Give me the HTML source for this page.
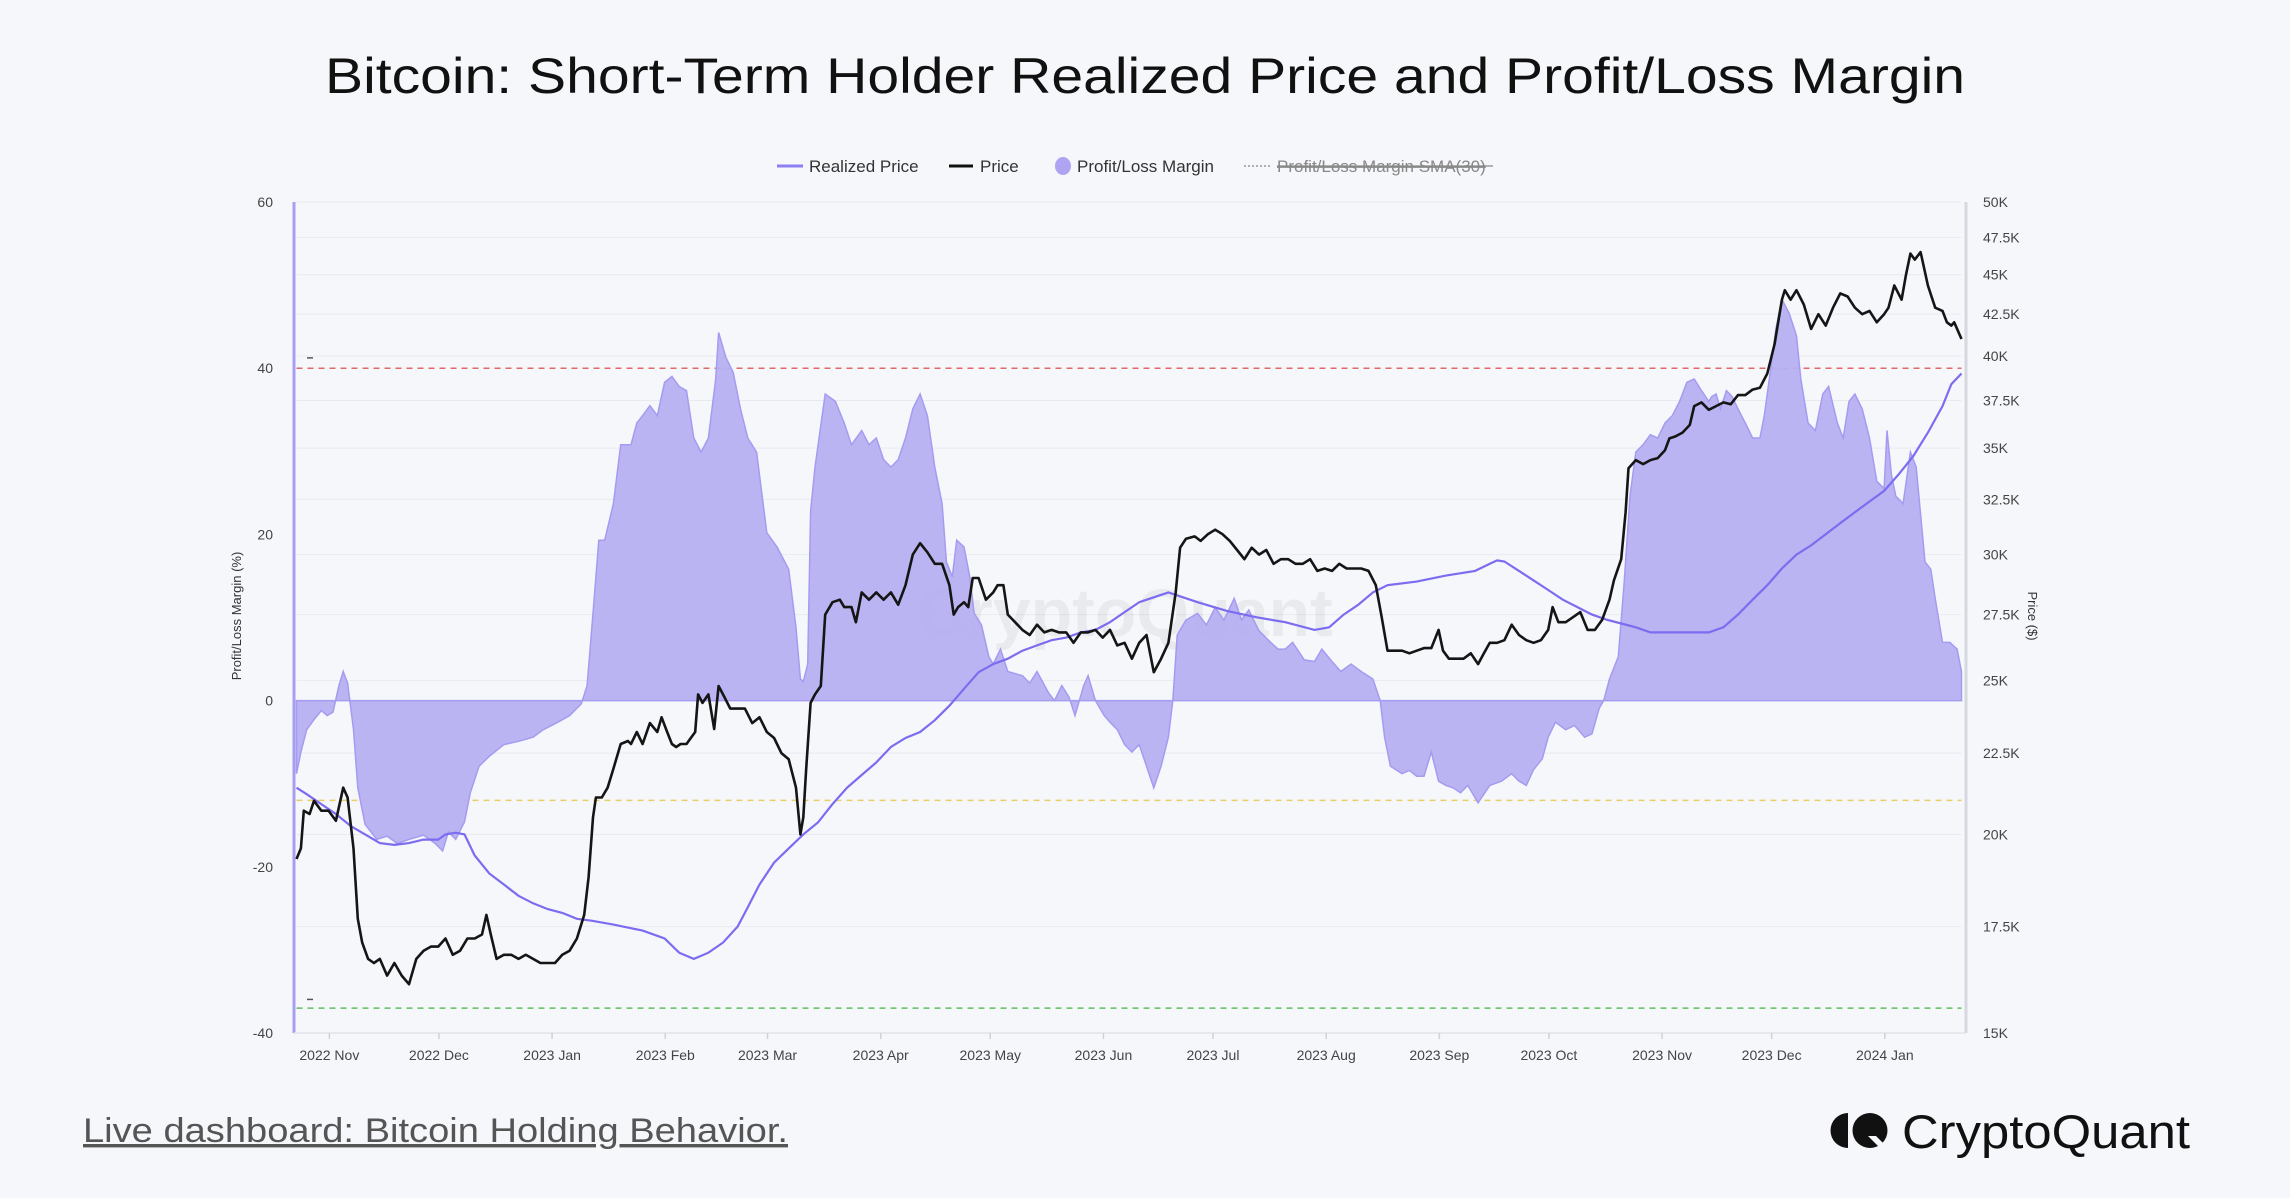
<!DOCTYPE html>
<html><head><meta charset="utf-8"><style>
html,body{margin:0;padding:0;background:#f6f7fb;}
svg{display:block;font-family:"Liberation Sans",sans-serif;}
</style></head><body>
<svg id="chart" width="2290" height="1198" viewBox="0 0 2290 1198" xmlns="http://www.w3.org/2000/svg">
<rect width="2290" height="1198" fill="#f6f7fb"/>
<text x="1145" y="93" text-anchor="middle" font-size="50" fill="#111" textLength="1640" lengthAdjust="spacingAndGlyphs">Bitcoin: Short-Term Holder Realized Price and Profit/Loss Margin</text>
<g font-size="17" fill="#333">
 <g><line x1="777" y1="166" x2="803" y2="166" stroke="#8b7ff2" stroke-width="3"/><text x="809" y="172">Realized Price</text></g>
 <g><line x1="949" y1="166" x2="973" y2="166" stroke="#111" stroke-width="3"/><text x="980" y="172">Price</text></g>
 <g><ellipse cx="1063" cy="166" rx="8" ry="9" fill="#aea4f2"/><text x="1077" y="172">Profit/Loss Margin</text></g>
 <g><line x1="1244" y1="166" x2="1271" y2="166" stroke="#999" stroke-width="1.5" stroke-dasharray="2,2"/><text x="1277" y="172" fill="#888" text-decoration="line-through">Profit/Loss Margin SMA(30)</text><line x1="1277" y1="166" x2="1493" y2="166" stroke="#888" stroke-width="1.2"/></g>
</g>
<g id="grid"></g>
<text x="1125" y="636" text-anchor="middle" font-size="68" fill="#000" fill-opacity="0.05" font-weight="bold">CryptoQuant</text>
<g id="refs"></g>
<g id="marks"></g>
<line x1="294" y1="202" x2="294" y2="1033" stroke="#a89ef0" stroke-width="3"/>
<line x1="1966" y1="202" x2="1966" y2="1033" stroke="#d6d8e0" stroke-width="3"/>
<line x1="294" y1="1033" x2="1966" y2="1033" stroke="#e2e4ea" stroke-width="1.5"/>
<g id="axes" font-size="14" fill="#444"></g>
<text transform="translate(241,616) rotate(-90)" text-anchor="middle" font-size="13" fill="#333">Profit/Loss Margin (%)</text>
<text transform="translate(2028,616) rotate(90)" text-anchor="middle" font-size="13" fill="#333">Price ($)</text>
<text x="83" y="1142" font-size="34" fill="#555" textLength="705" lengthAdjust="spacingAndGlyphs" text-decoration="underline">Live dashboard: Bitcoin Holding Behavior.</text>
<g>
 <path d="M1848 1113 A17.5 17.5 0 0 0 1848 1148 Z" fill="#111"/>
 <circle cx="1870" cy="1130.5" r="17.5" fill="#111"/>
 <path d="M1868 1136 L1882 1150 L1890 1150 L1876 1136 Z" fill="#f6f7fb"/>
 <text x="1902" y="1148" font-size="47" fill="#111" textLength="288" lengthAdjust="spacingAndGlyphs">CryptoQuant</text>
</g>
</svg>
<script>
const monthLabels = ["2022 Nov","2022 Dec","2023 Jan","2023 Feb","2023 Mar","2023 Apr","2023 May","2023 Jun","2023 Jul","2023 Aug","2023 Sep","2023 Oct","2023 Nov","2023 Dec","2024 Jan"];
const monthDays = [9,39,70,101,129,160,190,221,251,282,313,343,374,404,435];
const leftTicks = [60,40,20,0,-20,-40];
const rightTicks = [50,47.5,45,42.5,40,37.5,35,32.5,30,27.5,25,22.5,20,17.5,15];
const refLevels = [40,-12,-37];
const marginDays = [0,1.2,2.8,4.8,6.8,8.4,10,11.6,12.8,14,15.6,16.8,18.8,22,24.8,27.6,30.8,34.8,38,40,41.6,43.6,46,47.6,50,52.8,56.8,60.8,64.8,67.6,71.6,74.8,78,79.6,81.2,82.8,84.4,86.8,88.8,91.6,93.2,94.8,96.8,98.8,100.8,102.8,104.8,106.8,108.8,110.8,112.8,114.8,115.6,117.6,119.6,121.6,123.6,126,128.8,131.6,134.8,136.8,138,138.8,140,140.8,142,144.8,147.6,150,152,154.8,156.8,158.8,160.8,162.8,164.8,166.8,168.8,170.8,172.8,174.8,176.8,178,179.6,180.8,182.8,184.4,185.6,187.6,189.6,190.8,192.8,194.8,198.8,200.8,202.8,206,207.6,209.6,211.6,213.2,215.6,216.8,218.8,221.2,222.8,224.8,226.8,228.8,230.8,232.8,234.8,236.8,238.8,240,241.2,243.6,246.8,249.2,251.6,254,256.8,258.8,260.8,263.6,266.8,268.8,270.8,272.8,276,278.8,280.8,283.6,286,288.8,291.6,294.8,296.8,298,299.6,302.8,304.8,306.8,308.8,310.8,312.8,314.8,316.8,318.8,320.8,323.6,326.8,330,332.8,334.8,336.8,338.8,341.2,342.8,344.8,346,347.6,350,352.8,354.8,356.8,358,359.6,362,363.6,365.2,366.8,368.8,370.8,372.8,374.8,376.8,378.8,380.8,382.8,384.8,386.8,387.6,388.8,390,391.6,393.2,394.8,396.8,398.8,400.8,402,403.6,405.2,406.8,408.8,410.8,412,414,416,418,419.6,422,423.6,425.2,426.8,428.8,430.8,432.8,434.8,435.6,436.8,438,440,442,443.6,446,447.6,448.8,450.8,452.8,454.8,456];
const marginValues = [-8.8,-6.2,-3.5,-2.3,-1.2,-1.8,-1.4,1.8,3.5,2.1,-3.5,-10.5,-14.9,-16.7,-16.3,-17.2,-16.7,-16.2,-17.2,-18.1,-15.8,-16.7,-14.6,-11.1,-7.9,-6.7,-5.3,-4.9,-4.4,-3.5,-2.6,-1.8,-0.4,1.8,10.5,19.3,19.3,23.7,30.8,30.8,33.4,34.3,35.5,34.3,38.3,39,37.8,37.3,31.6,29.9,31.6,38.7,44.3,41.3,39.5,35.1,31.6,29.9,20.2,18.5,15.8,8.8,2.6,2.3,4.4,22.8,28.1,36.9,36,33.4,30.8,32.5,30.8,31.6,29,28.1,29,31.6,35.1,36.9,34.3,28.1,23.7,16.7,14.9,19.3,18.5,14.9,10.5,9.1,5.3,4.4,6.2,3.5,3,2.1,3.5,0.9,0,1.8,0.4,-1.8,1.8,3,0,-1.8,-2.6,-3.5,-5.3,-6.2,-5.3,-7.9,-10.5,-7.9,-4.4,0,7.9,9.7,10.5,9.1,11.2,9.7,12.3,9.7,10.9,8.4,7,6.2,6.2,7,4.9,4.7,6.2,4.7,3.5,4.4,3.5,2.6,0,-4.4,-7.9,-8.8,-8.4,-9.1,-9.1,-6.2,-9.7,-10.2,-10.5,-11.1,-10.2,-12.3,-10.2,-9.7,-8.8,-9.7,-10.2,-8.3,-7,-4.4,-2.6,-3,-3.5,-3,-4.4,-4,-0.9,0,2.6,5.3,14.1,24.6,29.9,30.8,32,31.6,33.4,34.3,36,38.3,38.7,37.3,36,36.6,36.9,35.1,37.3,36.6,35.1,33.4,31.6,31.6,34.3,39.5,44.8,48.3,46.6,43.9,38.7,33.4,32.5,36.9,37.8,33.4,31.6,36,36.9,35.1,31.6,26.4,25.5,32.5,27.2,24.6,23.7,29.9,28.1,16.7,15.8,12.3,7,7,6.2,3.5];
const priceDays = [0,1.2,2,3.6,4.8,6.8,8.8,10.8,12.8,14,15.6,16.8,18,19.6,21.2,22.8,24.8,26.8,28.8,30.8,32.8,34.8,36.8,38.8,40.8,42.8,44.8,46.8,48.8,50.8,52,53.2,54.8,56.8,58.8,60.8,62.8,64.8,66.8,68.8,70.8,72.8,74.8,76.8,78.8,80,81.2,82,83.6,85.2,86.8,88.8,90.8,91.6,93.2,94.8,96.8,98.8,100,101.2,102.8,104,105.2,106.8,108,109.2,110,111.2,112.8,114.4,115.6,116.8,118.8,120.8,122.8,124.8,126.8,128.8,130.8,132.8,134.8,136.8,138,138.8,139.6,140.8,142,143.6,144.8,146.8,148.8,150,152,153.2,154.8,156.8,158.8,160.8,162.8,164.8,166.8,168.8,170.8,172.8,174.8,176.8,178.8,180,181.2,182.8,184,185.2,186.8,188.8,190.8,192,193.6,194.8,196.8,198.8,200.8,202.8,204.8,206.8,208.8,210.8,212.8,214.8,216.8,218.8,220.8,222.8,224.8,226.8,228.8,230.8,232.8,234.8,236.8,238.8,240.8,242,243.6,246,247.6,249.6,251.6,253.6,255.6,257.6,259.6,261.6,263.6,265.6,267.6,269.6,271.6,273.6,275.6,277.6,279.6,281.6,283.6,285.6,287.6,289.6,291.6,293.6,295.6,297.2,298.8,300.8,302.8,304.8,306.8,308.8,310.8,312.8,314,315.6,317.6,319.6,321.6,323.6,325.2,326.8,328.8,330.8,332.8,334.8,336.8,338.8,340.8,342.8,344,345.6,347.6,349.6,351.6,353.6,355.6,357.6,359.6,360.8,362.8,364,364.8,366.8,368.8,370.8,372.8,374.8,376,377.6,379.6,381.6,382.8,384.8,386.8,388.8,390.8,392.8,394.8,396.8,398.8,400.8,402.8,404.8,406.8,407.6,409.2,410.8,412.8,414.8,416.8,418.8,420.8,422.8,424.8,426.8,428.8,430.8,432.8,434.8,436,437.6,439.6,440.8,442,443.2,444.8,446.8,448.8,450.8,452,453.2,454,456];
const priceValues = [19.3,19.6,20.7,20.6,21.0,20.7,20.7,20.4,21.4,21.1,19.6,17.7,17.1,16.7,16.6,16.7,16.3,16.6,16.3,16.1,16.7,16.9,17.0,17.0,17.2,16.8,16.9,17.2,17.2,17.3,17.8,17.3,16.7,16.8,16.8,16.7,16.8,16.7,16.6,16.6,16.6,16.8,16.9,17.2,17.8,18.8,20.5,21.1,21.1,21.4,22.0,22.8,22.9,22.8,23.2,22.8,23.5,23.2,23.7,23.3,22.8,22.7,22.8,22.8,23.0,23.2,24.5,24.2,24.5,23.3,24.8,24.5,24.0,24.0,24.0,23.5,23.7,23.2,23.0,22.5,22.3,21.4,20.0,20.5,22.0,24.2,24.5,24.8,27.5,28.0,28.1,27.8,27.8,27.2,28.4,28.1,28.4,28.1,28.4,27.9,28.7,30.0,30.5,30.1,29.6,29.6,28.7,27.5,27.8,28.0,27.8,29.0,29.0,28.1,28.4,28.7,28.7,27.5,27.2,26.9,26.7,27.1,26.8,26.9,26.8,26.8,26.4,26.8,26.8,26.9,26.6,26.9,26.3,26.4,25.8,26.4,26.7,25.3,25.8,26.4,28.4,30.3,30.7,30.8,30.6,30.9,31.1,30.9,30.6,30.2,29.8,30.3,30.0,30.2,29.6,29.8,29.8,29.6,29.6,29.8,29.3,29.4,29.3,29.6,29.4,29.4,29.4,29.3,28.7,27.4,26.1,26.1,26.1,26.0,26.1,26.2,26.2,26.9,26.1,25.8,25.8,25.8,26.0,25.6,26.0,26.4,26.4,26.5,27.1,26.7,26.5,26.4,26.5,26.9,27.8,27.2,27.2,27.4,27.6,26.9,26.9,27.3,28.1,28.9,29.8,31.9,34.0,34.4,34.2,34.4,34.5,34.9,35.5,35.6,35.8,36.2,37.2,37.4,37.0,37.2,37.4,37.3,37.8,37.8,38.1,38.2,39.0,40.7,43.4,44.0,43.4,44.0,43.1,41.6,42.5,41.8,42.9,43.8,43.6,42.9,42.5,42.7,42.0,42.5,42.9,44.3,43.4,45.0,46.4,46.0,46.5,44.3,42.9,42.7,42.0,41.8,42.0,41.0];
const realizedDays = [0,2.8,6.8,10.8,14.8,18.8,22.8,26.8,30.8,34.8,38.8,40.8,43.6,46,48.8,52.8,56.8,60.8,64.8,68.8,72.8,76.8,80.8,86.8,94.8,100.8,104.8,108.8,112.8,116.8,120.8,123.6,126.8,130.8,134.8,138.8,142.8,146.8,150.8,154.8,158.8,162.8,166.8,170.8,174.8,178.8,182.8,186.8,190.8,194.8,198.8,202.8,206.8,210.8,214.8,218.8,222.8,226.8,230.8,234.8,238.8,242.8,246.8,254.8,262.8,270.8,278.8,282.8,286.8,290.8,294.8,298.8,306.8,314.8,322.8,326.8,328.8,330.8,334.8,338.8,342.8,346.8,350.8,354.8,358.8,362.8,366.8,370.8,378.8,386.8,390.8,394.8,398.8,402.8,406.8,410.8,414.8,418.8,422.8,426.8,430.8,434.8,438.8,442.8,446.8,450.8,453.2,456];
const realizedValues = [21.4,21.2,20.9,20.6,20.25,20.0,19.75,19.7,19.75,19.85,19.85,20.0,20.05,20.0,19.4,18.9,18.6,18.3,18.1,17.95,17.85,17.7,17.65,17.55,17.4,17.2,16.85,16.7,16.85,17.1,17.5,18.0,18.6,19.2,19.6,20.0,20.35,20.9,21.4,21.8,22.2,22.7,23.0,23.2,23.6,24.1,24.7,25.3,25.6,25.8,26.1,26.3,26.5,26.6,26.8,26.9,27.2,27.6,28.0,28.2,28.4,28.2,28.0,27.65,27.4,27.2,26.9,27.0,27.5,27.9,28.4,28.7,28.85,29.1,29.3,29.6,29.75,29.7,29.3,28.9,28.5,28.1,27.8,27.5,27.3,27.15,27.0,26.8,26.8,26.8,27.0,27.5,28.1,28.7,29.4,30.0,30.4,30.9,31.4,31.9,32.4,32.9,33.7,34.6,35.8,37.2,38.4,39.0];

const NS='http://www.w3.org/2000/svg';
const X0=296.5, X1=1961.5, DMAX=456, YT=202, YB=1033;
function xs(d){return X0+d*(X1-X0)/DMAX;}
function ym(m){return YT+(60-m)*(YB-YT)/100;}
function yp(p){return YT+(Math.log(50)-Math.log(p))/Math.log(50/15)*(YB-YT);}
function mk(tag,attrs,parent){const e=document.createElementNS(NS,tag);for(const k in attrs)e.setAttribute(k,attrs[k]);parent.appendChild(e);return e;}
const grid=document.getElementById('grid'), refs=document.getElementById('refs'), marks=document.getElementById('marks'), axes=document.getElementById('axes');

rightTicks.forEach(function(t){
  const g=mk('line',{x1:X0,x2:X1,y1:yp(t),y2:yp(t),stroke:'#e9eaf0','stroke-width':1},grid);
  
  
  const lb=mk('text',{x:1983,y:yp(t)+5},axes);
  lb.textContent=(t%1===0?t:t.toFixed(1))+'K';
  
  
});
leftTicks.forEach(function(t){
  const lb=mk('text',{x:273,y:ym(t)+5,'text-anchor':'end'},axes);
  lb.textContent=String(t);
  
  
});
monthDays.forEach(function(d,i){
  const tk=mk('line',{x1:xs(d),x2:xs(d),y1:YB,y2:YB+6,stroke:'#d0d2da','stroke-width':1.5},axes);
  
  
  const lb=mk('text',{x:xs(d),y:YB+27,'text-anchor':'middle','font-size':14},axes);
  lb.textContent=monthLabels[i];
  
  
});
const refColors=['#e06a6a','#e8cf6a','#5fbf5f'];
refLevels.forEach(function(v,i){
  const l=mk('line',{x1:X0,x2:X1,y1:ym(v),y2:ym(v),stroke:refColors[i],'stroke-width':1.5,'stroke-dasharray':'6,5'},refs);
  
  
});
[41,-36.2].forEach(function(v){
  const l=mk('line',{x1:307,x2:313,y1:ym(v)-2,y2:ym(v)-2,stroke:'#555','stroke-width':1.5},refs);
  
  
});

let d='M'+xs(marginDays[0])+' '+ym(0);
marginDays.forEach(function(dd,i){d+=' L'+xs(dd).toFixed(1)+' '+ym(marginValues[i]).toFixed(1);});
d+=' L'+xs(marginDays[marginDays.length-1])+' '+ym(0)+' Z';
const area=mk('path',{d:d,fill:'#b7b0f1','fill-opacity':0.95,stroke:'#a59bf0','stroke-width':1.5},marks);



let dr='';
realizedDays.forEach(function(dd,i){dr+=(i?' L':'M')+xs(dd).toFixed(1)+' '+yp(realizedValues[i]).toFixed(1);});
const rl=mk('path',{d:dr,fill:'none',stroke:'#7b6cf0','stroke-width':2.2},marks);



let dp='';
priceDays.forEach(function(dd,i){dp+=(i?' L':'M')+xs(dd).toFixed(1)+' '+yp(priceValues[i]).toFixed(1);});
const pl=mk('path',{d:dp,fill:'none',stroke:'#151515','stroke-width':2.6,'stroke-linejoin':'round'},marks);


</script>
</body></html>
